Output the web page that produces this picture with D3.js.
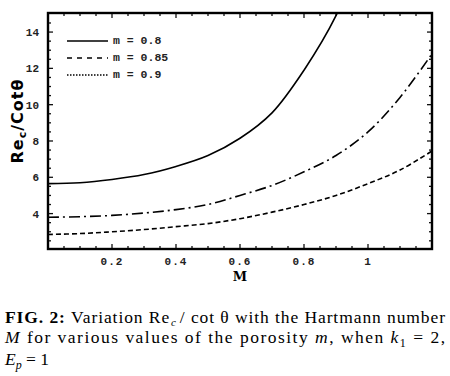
<!DOCTYPE html>
<html>
<head>
<meta charset="utf-8">
<script src="https://cdn.jsdelivr.net/npm/d3@7"></script>
<style>
  body { margin: 0; background: #fff; }
  svg { display: block; }
  .tick-label { font-family: "Liberation Mono", monospace; font-size: 11px; font-weight: bold; fill: #222; }
  .legend { font-family: "Liberation Mono", monospace; font-size: 11.5px; font-weight: bold; fill: #222; }
  .caption { font-family: "Liberation Serif", "DejaVu Serif", serif; font-size: 17.5px; fill: #000; }
</style>
</head>
<body>
<div id="chart"></div>
<script>
// values
const mValues = [0, 0.1, 0.2, 0.3, 0.4, 0.5, 0.6, 0.7, 0.8, 0.9, 1.0, 1.1, 1.2];
const porosity08 = [5.65, 5.7, 5.88, 6.15, 6.6, 7.2, 8.15, 9.55, 11.9, 14.9];
const porosity085 = [3.8, 3.83, 3.9, 4.03, 4.22, 4.5, 5.0, 5.55, 6.3, 7.2, 8.5, 10.4, 12.8];
const porosity09 = [2.85, 2.9, 3.0, 3.12, 3.28, 3.45, 3.72, 4.08, 4.5, 5.0, 5.65, 6.4, 7.45];
const legendLabels = ['m = 0.8', 'm = 0.85', 'm = 0.9'];
const xTicks = [0.2, 0.4, 0.6, 0.8, 1];
const yTicks = [4, 6, 8, 10, 12, 14];

const W = 450, H = 376;
const pLeft = 48, pRight = 432, pTop = 13, pBottom = 249;

const svg = d3.select('#chart').append('svg')
  .attr('width', W).attr('height', H);

const x = d3.scaleLinear().domain([0, 1.2]).range([pLeft, pRight]);
const y = d3.scaleLinear().domain([2.05, 15.05]).range([pBottom, pTop]);

svg.append('clipPath').attr('id', 'plotclip')
  .append('rect').attr('x', pLeft).attr('y', pTop)
  .attr('width', pRight - pLeft).attr('height', pBottom - pTop);

// ticks (inward, all four sides)
const xMinor = d3.range(1, 24).map(i => i * 0.05);
const yMinor = d3.range(5, 30).map(i => i * 0.5);
const ticks = svg.append('g').attr('stroke', '#111');
xMinor.forEach(function(v) {
  const major = xTicks.some(t => Math.abs(t - v) < 1e-6);
  const len = major ? 5 : 3;
  ticks.append('line').attr('x1', x(v)).attr('x2', x(v)).attr('y1', pBottom).attr('y2', pBottom - len).attr('stroke-width', 1.3);
  ticks.append('line').attr('x1', x(v)).attr('x2', x(v)).attr('y1', pTop).attr('y2', pTop + len).attr('stroke-width', 1.3);
});
yMinor.forEach(function(v) {
  const major = yTicks.indexOf(v) >= 0;
  const len = major ? 5 : 3;
  ticks.append('line').attr('x1', pLeft).attr('x2', pLeft + len).attr('y1', y(v)).attr('y2', y(v)).attr('stroke-width', 1.3);
  ticks.append('line').attr('x1', pRight).attr('x2', pRight - len).attr('y1', y(v)).attr('y2', y(v)).attr('stroke-width', 1.3);
});

// frame
svg.append('rect').attr('x', pLeft).attr('y', pTop)
  .attr('width', pRight - pLeft).attr('height', pBottom - pTop)
  .attr('fill', 'none').attr('stroke', '#000').attr('stroke-width', 2.4);

// tick labels
svg.append('g').selectAll('text').data(xTicks).enter().append('text')
  .attr('class', 'tick-label')
  .attr('x', d => x(d)).attr('y', 265)
  .attr('text-anchor', 'middle')
  .style('letter-spacing', '1px')
  .text(d => d === 1 ? '1' : d3.format('.1f')(d));
svg.append('g').selectAll('text').data(yTicks).enter().append('text')
  .attr('class', 'tick-label')
  .attr('x', 39).attr('y', d => y(d) + 4)
  .attr('text-anchor', 'end')
  .text(d => d);

// axis titles
svg.append('text')
  .attr('x', 240).attr('y', 281)
  .attr('text-anchor', 'middle')
  .style('font-family', '"DejaVu Serif", serif').style('font-size', '13px').style('font-weight', 'bold')
  .text('M');
const ylab = svg.append('text')
  .attr('transform', 'translate(23,121) rotate(-90)')
  .attr('text-anchor', 'middle')
  .style('font-family', '"DejaVu Sans", sans-serif').style('font-size', '16px').style('font-weight', 'bold')
  .style('letter-spacing', '1px');
ylab.append('tspan').text('Re');
ylab.append('tspan').attr('dy', 3).style('font-size', '11px').text('c');
ylab.append('tspan').attr('dy', -3).text('/Cotθ');

// curves
const line = d3.line().x(d => x(d[0])).y(d => y(d[1])).curve(d3.curveCatmullRom);
const series = [
  {vals: porosity08, dash: null},
  {vals: porosity085, dash: '11,4,2,4'},
  {vals: porosity09, dash: '5,3'}
];
const plot = svg.append('g').attr('clip-path', 'url(#plotclip)');
series.forEach(function(s) {
  const pts = s.vals.map((v, i) => [mValues[i], v]);
  // extend the first curve just past the top edge
  if (s.vals === porosity08) pts.push([0.93, 16.2]);
  plot.append('path').attr('d', line(pts))
    .attr('fill', 'none').attr('stroke', '#000').attr('stroke-width', 1.6)
    .attr('stroke-dasharray', s.dash);
});

// legend
const legendDash = [null, '5,5', '1.5,1.5'];
const legendY = [41, 58, 75];
legendLabels.forEach(function(lab, i) {
  svg.append('line').attr('x1', 67).attr('x2', 108)
    .attr('y1', legendY[i]).attr('y2', legendY[i])
    .attr('stroke', '#000').attr('stroke-width', i === 2 ? 1.5 : 1.4)
    .attr('stroke-dasharray', legendDash[i]);
  svg.append('text').attr('class', 'legend')
    .attr('x', 113).attr('y', legendY[i] + 3).text(lab);
});

// caption
const cap = svg.append('g').attr('class', 'caption');
const l1 = cap.append('text').attr('x', 5).attr('y', 323)
  .attr('textLength', 440).attr('lengthAdjust', 'spacing');
l1.append('tspan').style('font-weight', 'bold').text('FIG. 2: ');
l1.append('tspan').text('Variation Re');
l1.append('tspan').attr('dy', 3).attr('dx', 1).style('font-style', 'italic').style('font-size', '11px').text('c');
l1.append('tspan').attr('dy', -3).attr('dx', 3).text('/ cot θ with the Hartmann number');

const l2 = cap.append('text').attr('x', 5).attr('y', 343)
  .attr('textLength', 440).attr('lengthAdjust', 'spacing');
l2.append('tspan').style('font-style', 'italic').text('M');
l2.append('tspan').text(' for various values of the porosity ');
l2.append('tspan').style('font-style', 'italic').text('m');
l2.append('tspan').text(', when ');
l2.append('tspan').style('font-style', 'italic').text('k');
l2.append('tspan').attr('dy', 4).style('font-size', '12px').text('1');
l2.append('tspan').attr('dy', -4).text(' = 2,');

const l3 = cap.append('text').attr('x', 5).attr('y', 365);
l3.append('tspan').style('font-style', 'italic').text('E');
l3.append('tspan').attr('dy', 4).style('font-style', 'italic').style('font-size', '12px').text('p');
l3.append('tspan').attr('dy', -4).text(' = 1');
</script>
</body>
</html>
